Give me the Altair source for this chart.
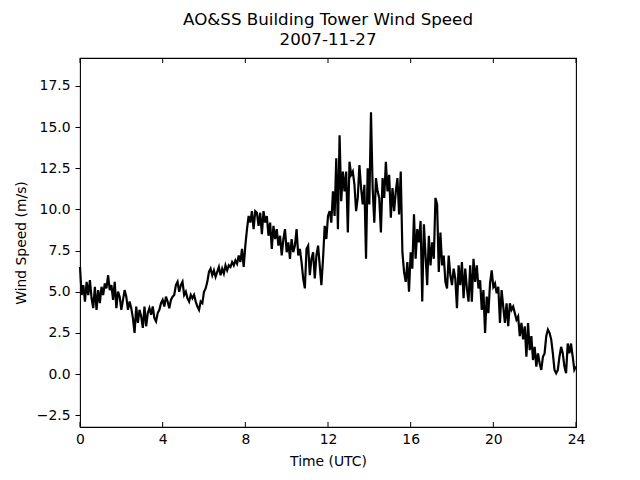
import altair as alt
import pandas as pd
import numpy as np

title_lines = ["AO&SS Building Tower Wind Speed", "2007-11-27"]

# wind speed (m/s), 00 UTC -> 24 UTC
seg1 = [6.5, 4.8, 5.4, 4.4, 5.6, 4.8, 5.7, 4.6, 4.0, 5.3, 3.9, 5.1, 4.3, 5.3, 4.8, 5.5, 5.2, 6.0, 5.1, 5.4,
        4.5, 5.6, 4.0, 5.0, 4.7, 3.9, 4.5, 5.1, 4.7, 3.9, 4.4, 4.0, 3.4, 2.5, 4.1, 3.1, 3.9, 3.5, 2.8, 4.1,
        2.9, 3.7, 4.0, 3.6, 4.1, 3.4, 3.2, 3.7, 3.9, 4.3, 4.5, 4.1, 4.7, 4.4, 4.0, 4.5, 4.7, 4.8, 5.4]
seg2 = [5.6, 5.0, 5.4, 5.6, 4.8, 5.0, 4.6, 4.4, 4.8, 4.6, 4.8, 4.4, 4.1, 3.9, 4.4, 4.3, 5.0, 5.2, 5.6, 6.2,
        6.4, 6.0, 6.3, 5.9, 6.2, 6.5, 6.0, 6.4, 6.1, 6.6, 6.3, 6.6, 6.5, 6.8, 6.6, 6.9, 6.7, 7.2, 6.8, 7.6,
        6.5, 7.8, 8.8, 9.6, 9.2, 9.9, 8.8, 9.9, 9.8, 9.0, 9.8, 8.5, 9.9, 9.2, 9.6, 8.4, 9.2, 7.6, 9.0, 8.2, 8.8]
seg3 = [7.8, 8.4, 7.2, 8.2, 8.8, 7.4, 8.0, 7.0, 8.2, 7.4, 7.8, 8.8, 7.2, 7.6, 6.8, 5.8, 5.2, 7.6, 7.8, 6.0,
        7.0, 7.4, 5.8, 7.2, 7.8, 6.6, 5.4, 7.0, 9.0, 8.2, 9.6, 9.9, 9.2, 11.1, 9.6, 13.1, 8.8, 14.5, 10.5, 12.3,
        11.1, 12.3, 8.6, 12.9, 12.1, 12.3, 11.5, 9.9, 10.7, 12.7, 11.3, 10.3, 11.5, 7.0, 12.5, 10.3, 15.9, 11.3,
        9.2, 11.9, 11.1]
seg4 = [10.7, 8.6, 11.9, 10.7, 12.9, 11.1, 12.1, 9.5, 11.3, 9.9, 11.1, 11.9, 9.7, 12.3, 7.4, 6.2, 5.6, 6.8,
        5.0, 7.4, 6.4, 9.7, 7.0, 8.8, 8.0, 9.3, 4.4, 9.1, 7.2, 5.4, 8.4, 6.6, 8.0, 7.0, 10.7, 10.3, 6.2, 8.6,
        6.6, 7.2, 5.6, 5.2, 7.2, 6.0, 5.4, 6.4, 5.8, 4.0, 6.6, 5.4, 6.8, 4.6, 6.4, 5.2, 4.4, 6.6, 4.4, 7.0,
        5.6, 6.6, 5.2]
seg5 = [5.7, 3.9, 5.1, 2.5, 4.7, 3.7, 5.5, 6.3, 5.3, 5.5, 4.9, 5.3, 3.1, 5.1, 4.1, 3.1, 4.3, 2.9, 4.3, 3.9,
        4.1, 3.7, 3.3, 3.5, 2.3, 3.1, 2.1, 2.9, 1.05, 3.1, 1.45, 2.3, 0.85, 1.65, 0.45, 1.25, 0.65, 0.25, 1.05,
        1.25, 2.3, 2.7, 2.5, 2.1, 1.25, 0.25, 0.05, 0.25, 1.05, 1.65, 1.25, 0.45, 0.05, 1.85, 1.25, 1.85, 1.05,
        0.25, 0.45]
speed = seg1 + seg2 + seg3 + seg4 + seg5
# evenly spaced sample times across the day (hours UTC)
hours = list(np.linspace(0, 24, len(speed)))

x_ticks = [0, 4, 8, 12, 16, 20, 24]
y_ticks = [-2.5, 0, 2.5, 5, 7.5, 10, 12.5, 15, 17.5]
x_domain = [0, 24]
y_domain = [-3.22, 19.2]

W, H = 496, 369
FONT = "DejaVu Sans"

df = pd.DataFrame({"hour": hours, "speed": speed})
ticks_df = pd.DataFrame({"hour": x_ticks})

x_enc = alt.X(
    "hour:Q",
    scale=alt.Scale(domain=x_domain, nice=False, zero=False),
    axis=alt.Axis(values=x_ticks, format="d", title="Time (UTC)", ticks=False,
                  labelFlush=False, labelPadding=5, titlePadding=9),
)
y_enc = alt.Y(
    "speed:Q",
    scale=alt.Scale(domain=y_domain, nice=False, zero=False),
    axis=alt.Axis(values=y_ticks, format=".1f", title="Wind Speed (m/s)", tickSize=5,
                  labelFlush=False, labelPadding=5, titlePadding=8),
)

line = alt.Chart(df).mark_line(color="black", strokeWidth=2.2).encode(x=x_enc, y=y_enc)
bottom_ticks = alt.Chart(ticks_df).mark_rule(color="black", strokeWidth=1).encode(
    x=x_enc, y=alt.value(H), y2=alt.value(H - 5)
)
top_ticks = alt.Chart(ticks_df).mark_rule(color="black", strokeWidth=1).encode(
    x=x_enc, y=alt.value(0), y2=alt.value(5)
)

chart = (
    alt.layer(line, bottom_ticks, top_ticks)
    .properties(
        width=W,
        height=H,
        autosize="none",
        padding={"left": 72, "top": 50, "right": 56, "bottom": 45},
        title=alt.TitleParams(text=title_lines, fontSize=16.7, font=FONT, fontWeight="normal",
                              color="black", anchor="middle", offset=9, lineHeight=20),
    )
    .configure_view(stroke="black", strokeWidth=1.1)
    .configure_axis(labelFont=FONT, titleFont=FONT, labelFontSize=13.9, titleFontSize=13.9,
                    labelColor="black", titleColor="black", tickColor="black", tickWidth=1,
                    domain=False, grid=False, titleFontWeight="normal")
)

chart.save("out.html", embed_options={"renderer": "svg", "actions": False})
